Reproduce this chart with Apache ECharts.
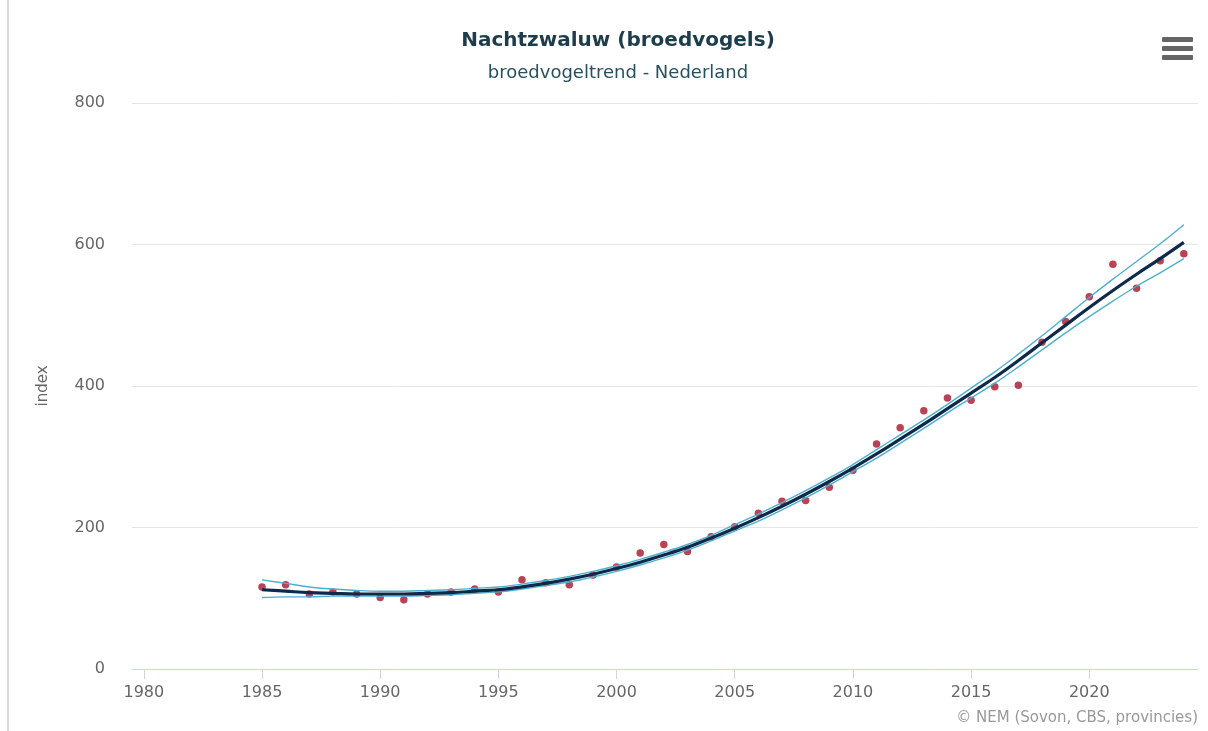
<!DOCTYPE html>
<html>
<head>
<meta charset="utf-8">
<title>Nachtzwaluw (broedvogels)</title>
<script src="https://cdn.jsdelivr.net/npm/echarts@6/dist/echarts.min.js"></script>
<style>
  html, body { margin: 0; padding: 0; background: #fff; }
  #main { width: 1208px; height: 731px; }
</style>
</head>
<body>
<div id="main"></div>
<script>
// jaren en indexwaarden
const years = [1985, 1986, 1987, 1988, 1989, 1990, 1991, 1992, 1993, 1994,
  1995, 1996, 1997, 1998, 1999, 2000, 2001, 2002, 2003, 2004,
  2005, 2006, 2007, 2008, 2009, 2010, 2011, 2012, 2013, 2014,
  2015, 2016, 2017, 2018, 2019, 2020, 2021, 2022, 2023, 2024]
const indexValues = [116, 119, 106, 109, 106, 101, 98, 106, 109, 113,
  109, 126, 122, 119, 133, 144, 164, 176, 166, 187,
  201, 220, 237, 238, 257, 281, 318, 341, 365, 383,
  380, 399, 401, 462, 491, 526, 572, 538, 577, 587]
const trend = [112, 110, 108, 107, 106, 106, 106, 107, 108, 110,
  112, 116, 121, 127, 134, 142, 151, 161, 172, 185,
  199, 214, 230, 247, 265, 284, 304, 325, 346, 368,
  390, 412, 436, 461, 486, 511, 535, 558, 580, 603]
const upper = [126, 121, 116, 113, 111, 110, 110, 111, 112, 114,
  116, 120, 125, 131, 138, 146, 155, 165, 176, 189,
  204, 219, 235, 252, 270, 289, 310, 331, 352, 374,
  397, 420, 445, 471, 498, 525, 551, 576, 601, 628]
const lower = [101, 102, 102, 103, 103, 103, 103, 104, 105, 107,
  109, 113, 118, 123, 130, 138, 147, 157, 168, 181,
  195, 209, 225, 242, 260, 279, 298, 319, 340, 362,
  383, 404, 427, 451, 475, 498, 520, 541, 560, 580]
const xTicks = [1980, 1985, 1990, 1995, 2000, 2005, 2010, 2015, 2020]

const pairs = (vals) => years.map((y, i) => [y, vals[i]])

const myChart = echarts.init(document.getElementById('main'))
const labelFont = 'DejaVu Sans'

myChart.setOption({
  animation: false,
  title: {
    text: 'Nachtzwaluw (broedvogels)',
    subtext: 'broedvogeltrend - Nederland',
    left: 613,
    textAlign: 'center',
    top: 26,
    itemGap: 13,
    textStyle: { fontFamily: labelFont, fontSize: 20, fontWeight: 'bold', color: '#1d3d4c' },
    subtextStyle: { fontFamily: labelFont, fontSize: 18, color: '#27505e' }
  },
  grid: { left: 132, right: 10, top: 103, bottom: 62 },
  xAxis: {
    type: 'value',
    min: 1979.5,
    max: 2024.6,
    axisLine: { show: true, lineStyle: { color: '#ccd6eb' } },
    axisTick: { show: true, length: 10, customValues: xTicks, lineStyle: { color: '#ccd6eb' } },
    axisLabel: {
      customValues: xTicks,
      formatter: (v) => String(v),
      margin: 16,
      fontFamily: labelFont,
      fontSize: 16,
      color: '#666'
    },
    splitLine: { show: false }
  },
  yAxis: {
    type: 'value',
    min: 0,
    max: 800,
    interval: 200,
    name: 'index',
    nameLocation: 'middle',
    nameRotate: 90,
    nameGap: 81,
    nameTextStyle: { fontFamily: labelFont, fontSize: 15, color: '#666' },
    axisLine: { show: false },
    axisTick: { show: false },
    axisLabel: { margin: 27, fontFamily: labelFont, fontSize: 16, color: '#666' },
    splitLine: { lineStyle: { color: '#e6e6e6' } }
  },
  series: [
    {
      name: 'index',
      type: 'scatter',
      data: pairs(indexValues),
      symbolSize: 7.5,
      itemStyle: { color: '#a8132a' },
      z: 1
    },
    {
      name: 'bovengrens',
      type: 'line',
      data: pairs(upper),
      smooth: 0.4,
      showSymbol: false,
      lineStyle: { color: '#4cb0cf', width: 1.4 },
      z: 2
    },
    {
      name: 'ondergrens',
      type: 'line',
      data: pairs(lower),
      smooth: 0.4,
      showSymbol: false,
      lineStyle: { color: '#4cb0cf', width: 1.4 },
      z: 2
    },
    {
      name: 'trend',
      type: 'line',
      data: pairs(trend),
      smooth: 0.4,
      showSymbol: false,
      lineStyle: { color: '#0d2a4a', width: 3.2 },
      z: 3
    }
  ],
  graphic: [
    // linkerrand van de container
    { type: 'rect', left: 7, top: 0, shape: { width: 2, height: 731 }, style: { fill: '#d9d9d9' } },
    // menu-icoon
    { type: 'rect', left: 1162, top: 37, shape: { width: 31, height: 5, r: 1 }, style: { fill: '#666' } },
    { type: 'rect', left: 1162, top: 46, shape: { width: 31, height: 5, r: 1 }, style: { fill: '#666' } },
    { type: 'rect', left: 1162, top: 55, shape: { width: 31, height: 5, r: 1 }, style: { fill: '#666' } },
    {
      type: 'text',
      right: 10,
      top: 711,
      style: { text: '\u00a9 NEM (Sovon, CBS, provincies)', fontFamily: labelFont, fontSize: 15, fill: '#999' }
    }
  ]
})

window.addEventListener('resize', function() {
  myChart.resize()
})
</script>
</body>
</html>
